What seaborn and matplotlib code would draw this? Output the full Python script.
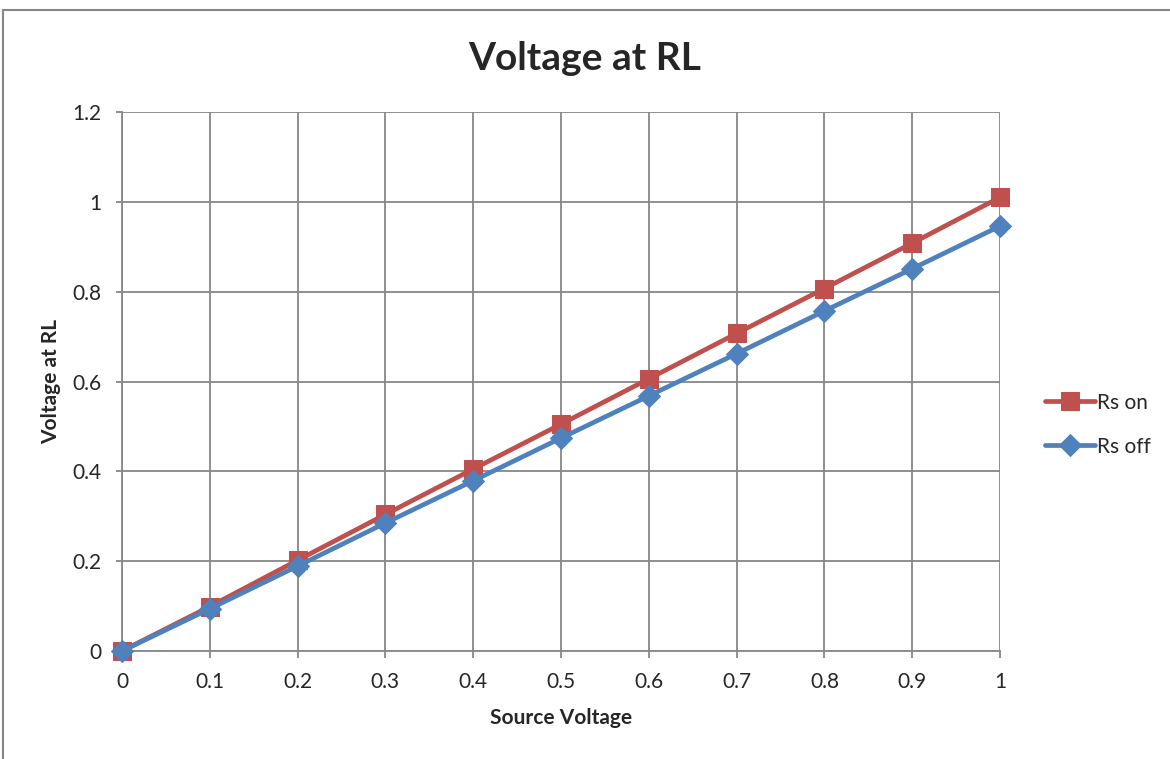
import matplotlib
matplotlib.use("Agg")
import matplotlib.pyplot as plt
import seaborn as sns
import pandas as pd
from matplotlib.patches import Rectangle

source_voltage = [0, 0.1, 0.2, 0.3, 0.4, 0.5, 0.6, 0.7, 0.8, 0.9, 1.0]
rs_on = [0, 0.099, 0.202, 0.304, 0.405, 0.505, 0.606, 0.707, 0.807, 0.908, 1.01]
rs_off = [0, 0.094, 0.189, 0.285, 0.379, 0.474, 0.568, 0.662, 0.757, 0.851, 0.946]
x_ticks = [0, 0.1, 0.2, 0.3, 0.4, 0.5, 0.6, 0.7, 0.8, 0.9, 1]
x_tick_labels = ["0", "0.1", "0.2", "0.3", "0.4", "0.5", "0.6", "0.7", "0.8", "0.9", "1"]
y_ticks = [0, 0.2, 0.4, 0.6, 0.8, 1.0, 1.2]
y_tick_labels = ["0", "0.2", "0.4", "0.6", "0.8", "1", "1.2"]

sns.set_style("white")
plt.rcParams['font.family'] = ['Lato', 'DejaVu Sans']

fig = plt.figure(figsize=(11.7, 7.59), dpi=100)
ax = fig.add_axes([122/1170, 1 - 651/759, (1000-122)/1170, (651-112)/759])

df_on = pd.DataFrame({"x": source_voltage, "y": rs_on})
df_off = pd.DataFrame({"x": source_voltage, "y": rs_off})

sns.lineplot(data=df_on, x="x", y="y", ax=ax, color="#C0504D", lw=3.4,
             marker="s", markersize=13, markeredgecolor="#C0504D",
             label="Rs on", zorder=3, clip_on=False)
sns.lineplot(data=df_off, x="x", y="y", ax=ax, color="#4F81BD", lw=3.4,
             marker="D", markersize=11.5, markeredgecolor="#4F81BD",
             label="Rs off", zorder=4, clip_on=False)

ax.set_xlim(0, 1)
ax.set_ylim(0, 1.2)
ax.set_xticks(x_ticks)
ax.set_xticklabels(x_tick_labels, fontsize=15)
ax.set_yticks(y_ticks)
ax.set_yticklabels(y_tick_labels, fontsize=15)
ax.grid(True, color="#878787", lw=1.3)
ax.set_axisbelow(True)
for s in ["top", "right"]:
    ax.spines[s].set_visible(False)
for s in ["left", "bottom"]:
    ax.spines[s].set_color("#878787")
    ax.spines[s].set_linewidth(1.3)
ax.tick_params(axis="x", direction="out", length=5, width=1.3, color="#878787",
               pad=10, bottom=True)
ax.tick_params(axis="y", direction="out", length=4, width=1.3, color="#878787",
               pad=11, left=True)

ax.set_xlabel("Source Voltage", fontsize=15, fontweight="bold", labelpad=12)
ax.set_ylabel("Voltage at RL", fontsize=15, fontweight="bold", labelpad=8)
fig.text(0.5, 1 - 58/759, "Voltage at RL", ha="center", va="center",
         fontsize=28, fontweight="bold")

leg = ax.legend(loc="center left", bbox_to_anchor=(1.03, 0.42), frameon=False,
                fontsize=15, handlelength=2.4, labelspacing=1.15, handletextpad=0.1)

fig.patches.append(Rectangle((3/1170, -0.01), 1.02, 1 - 10/759 + 0.01,
                             transform=fig.transFigure, fill=False,
                             edgecolor="#878787", lw=1.5))

fig.savefig("out.png", dpi=100)
